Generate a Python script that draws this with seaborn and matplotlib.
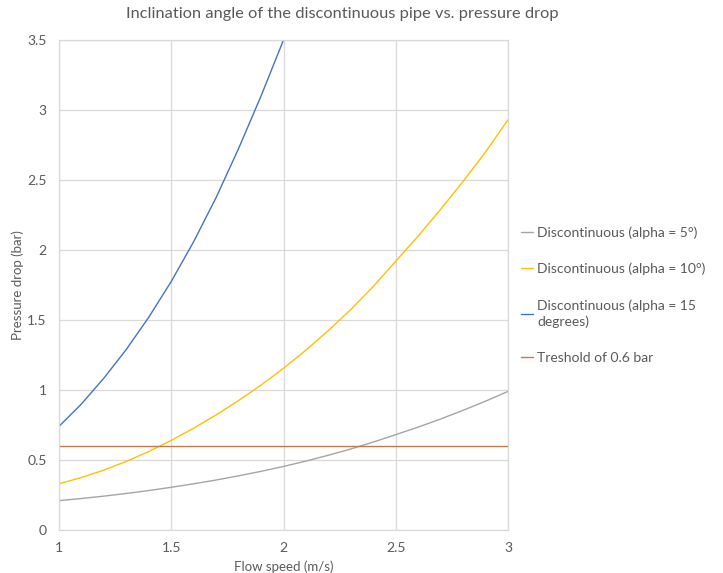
import matplotlib
matplotlib.use("Agg")
import matplotlib.pyplot as plt
import seaborn as sns
import pandas as pd

# ---- data ----
flow_speed = [1.0, 1.1, 1.2, 1.3, 1.4, 1.5, 1.6, 1.7, 1.8, 1.9, 2.0,
              2.1, 2.2, 2.3, 2.4, 2.5, 2.6, 2.7, 2.8, 2.9, 3.0]
alpha5 = [0.21, 0.225, 0.242, 0.261, 0.282, 0.305, 0.33, 0.357, 0.387, 0.419, 0.454,
          0.492, 0.534, 0.579, 0.628, 0.681, 0.735, 0.793, 0.855, 0.92, 0.99]
alpha10 = [0.33, 0.375, 0.428, 0.49, 0.561, 0.64, 0.727, 0.822, 0.925, 1.035, 1.155,
           1.285, 1.425, 1.575, 1.74, 1.92, 2.10, 2.29, 2.49, 2.70, 2.93]
flow_speed15 = [1.0, 1.1, 1.2, 1.3, 1.4, 1.5, 1.6, 1.7, 1.8, 1.9, 2.0]
alpha15 = [0.74, 0.90, 1.085, 1.29, 1.52, 1.775, 2.06, 2.375, 2.725, 3.10, 3.50]
threshold_x = [1.0, 3.0]
threshold_y = [0.6, 0.6]

labels = ["Discontinuous (alpha = 5°)",
          "Discontinuous (alpha = 10°)",
          "Discontinuous (alpha = 15\ndegrees)",
          "Treshold of 0.6 bar"]
colors = ["#A5A5A5", "#FFC000", "#4472C4", "#C9784B"]

x_ticks = [1, 1.5, 2, 2.5, 3]
x_ticklabels = ["1", "1.5", "2", "2.5", "3"]
y_ticks = [0, 0.5, 1, 1.5, 2, 2.5, 3, 3.5]
y_ticklabels = ["0", "0.5", "1", "1.5", "2", "2.5", "3", "3.5"]

df = pd.concat([
    pd.DataFrame({"x": flow_speed, "y": alpha5, "series": labels[0]}),
    pd.DataFrame({"x": flow_speed, "y": alpha10, "series": labels[1]}),
    pd.DataFrame({"x": flow_speed15, "y": alpha15, "series": labels[2]}),
    pd.DataFrame({"x": threshold_x, "y": threshold_y, "series": labels[3]}),
], ignore_index=True)

sns.set_theme(style="white")
plt.rcParams["font.family"] = ["Lato", "DejaVu Sans"]

fig = plt.figure(figsize=(7.23, 5.73), dpi=100)
ax = fig.add_axes([59 / 723, 1 - 530 / 573, (508 - 59) / 723, (530 - 40) / 573])

sns.lineplot(data=df, x="x", y="y", hue="series", hue_order=labels,
             palette=dict(zip(labels, colors)), sort=False, estimator=None,
             linewidth=1.0, ax=ax, legend=False)

ax.set_xlim(1, 3)
ax.set_ylim(0, 3.5)
ax.set_xticks(x_ticks)
ax.set_xticklabels(x_ticklabels)
ax.set_yticks(y_ticks)
ax.set_yticklabels(y_ticklabels)
ax.grid(True, color="#D9D9D9", linewidth=0.9)
ax.set_axisbelow(True)
for s in ax.spines.values():
    s.set_color("#D9D9D9")
    s.set_linewidth(0.9)
ax.tick_params(axis="both", length=0, labelsize=10, colors="#595959", pad=9)
ax.set_xlabel("Flow speed (m/s)", fontsize=9.5, color="#595959", labelpad=4)
ax.set_ylabel("Pressure drop (bar)", fontsize=9.5, color="#595959", labelpad=2)

fig.suptitle("Inclination angle of the discontinuous pipe vs. pressure drop",
             x=0.474, y=0.988, fontsize=11.8, color="#595959")

handles = [plt.Line2D([], [], color=c, linewidth=1.0) for c in colors]
leg = fig.legend(handles, labels, loc="center left", bbox_to_anchor=(0.703, 0.485),
                 frameon=False, fontsize=10, handlelength=0.9, handletextpad=0.3,
                 labelspacing=1.75, labelcolor="#595959")
for t in leg.get_texts():
    t.set_linespacing(1.3)

fig.savefig("out.png", dpi=100)
